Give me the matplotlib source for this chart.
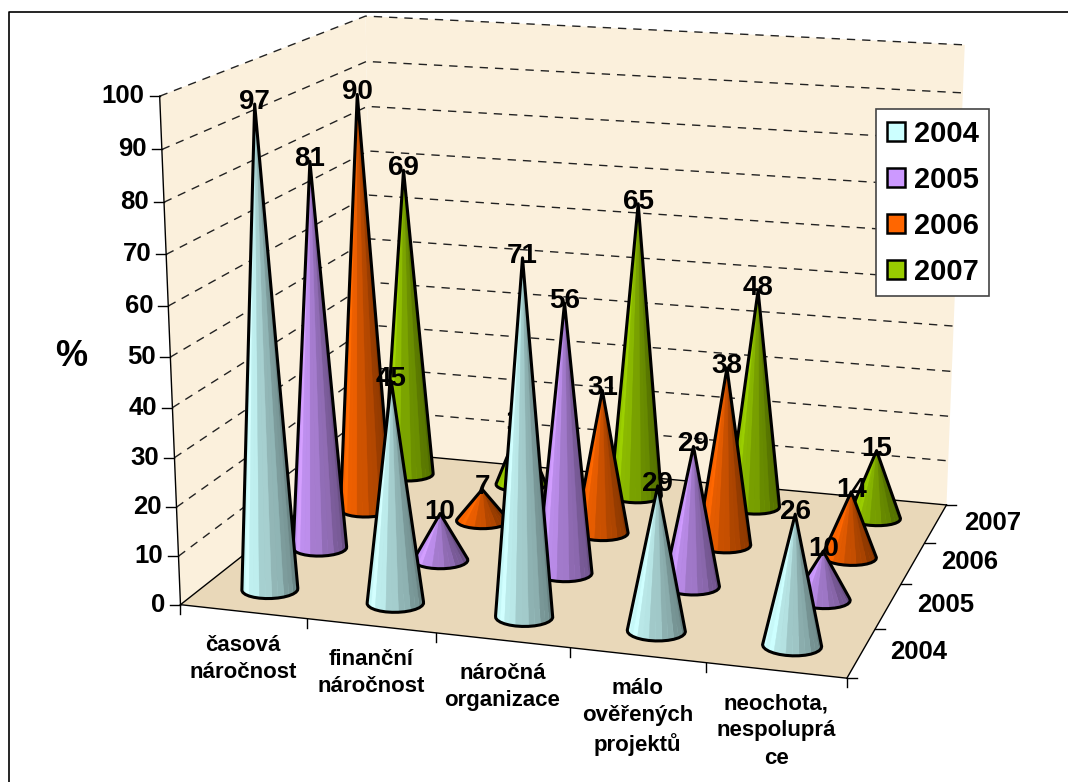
import matplotlib
matplotlib.use("Agg")
import matplotlib.pyplot as plt
from matplotlib.patches import Patch, Polygon
import numpy as np

plt.rcParams['font.family'] = ['Liberation Sans', 'DejaVu Sans']
plt.rcParams['font.weight'] = 'bold'

categories = ["časová\nnáročnost", "finanční\nnáročnost", "náročná\norganizace",
              "málo\nověřených\nprojektů", "neochota,\nnespoluprá\nce"]
years = ["2004", "2005", "2006", "2007"]
values_2004 = [97, 45, 71, 29, 26]
values_2005 = [81, 10, 56, 29, 10]
values_2006 = [90, 7, 31, 38, 14]
values_2007 = [69, 14, 65, 48, 15]
all_values = [values_2004, values_2005, values_2006, values_2007]
colors = ["#CCFFFF", "#CC99FF", "#FF6600", "#99CC00"]
value_ticks = list(range(0, 101, 10))

# the 3d box of the chart: (category, series, value) -> pixel, fitted on its corners
box = [(0, 0, 0), (5, 0, 0), (5, 4, 0), (0, 4, 0), (0, 0, 100), (0, 4, 100), (5, 4, 100)]
box_px = [(181, 606), (846, 678), (947, 505), (374, 451), (160, 95), (365, 17), (965, 45)]


def fit_projection(points, pixels):
    rows = []
    rhs = []
    for (x, y, z), (u, v) in zip(points, pixels):
        rows.append([x, y, z, 1, 0, 0, 0, 0, -u * x, -u * y, -u * z])
        rhs.append(u)
        rows.append([0, 0, 0, 0, x, y, z, 1, -v * x, -v * y, -v * z])
        rhs.append(v)
    sol = np.linalg.lstsq(np.array(rows, float), np.array(rhs, float), rcond=None)[0]
    return np.append(sol, 1).reshape(3, 4)


P = fit_projection(box, box_px)


def project(x, y, z):
    p = P @ np.array([x, y, z, 1.0])
    return p[0] / p[2], p[1] / p[2]


def hull(points):
    pts = sorted(set(points))

    def half(seq):
        out = []
        for p in seq:
            while len(out) > 1 and ((out[-1][0] - out[-2][0]) * (p[1] - out[-2][1])
                                    - (out[-1][1] - out[-2][1]) * (p[0] - out[-2][0])) <= 0:
                out.pop()
            out.append(p)
        return out[:-1]

    return half(pts) + half(pts[::-1])


def shade(color, t, odd):
    # light on the left of the cone, dark on the right
    rgb = np.array(matplotlib.colors.to_rgb(color))
    f = np.interp(t, [0, 0.1, 0.35, 0.7, 1], [0.97, 1.0, 0.84, 0.68, 0.5])
    f = f * (1.04 if odd else 0.98)
    return tuple(np.clip(rgb * f, 0, 1))


def draw_cone(ax, i, j, value, color, order):
    cx, cy = i + 0.5, j + 0.5
    rx, ry = 0.21, 0.2
    n = 28
    angles = np.linspace(0, 2 * np.pi, n, endpoint=False)
    base = [(cx + rx * np.cos(a), cy + ry * np.sin(a)) for a in angles]
    base_px = [project(bx, by, 0) for bx, by in base]
    apex = project(cx, cy, value)
    outline = hull(base_px + [apex])
    ax.add_patch(Polygon(outline, closed=True, fc=color, ec="none", zorder=order))

    xs = [p[0] for p in base_px]
    segs = sorted(range(n), key=lambda k: base[k][1], reverse=True)
    for k in segs:
        a = base_px[k]
        b = base_px[(k + 1) % n]
        t = ((a[0] + b[0]) / 2 - min(xs)) / (max(xs) - min(xs))
        c = shade(color, t, k % 2 == 0)
        ax.add_patch(Polygon([apex, a, b], closed=True, fc=c, ec=c, lw=0.3, zorder=order + 0.1))
    ax.add_patch(Polygon(outline, closed=True, fc="none", ec="black", lw=2.2, joinstyle="round", zorder=order + 0.2))
    ax.text(apex[0], apex[1] - 2, str(value), ha="center", va="center", fontsize=20, zorder=order + 0.3)


fig = plt.figure(figsize=(10.68, 7.82), dpi=100)
ax = fig.add_axes([0, 0, 1, 1])
ax.set_xlim(0, 1068)
ax.set_ylim(782, 0)
ax.axis("off")

# chart frame, only top and left show up
ax.plot([8.5, 8.5, 1068], [782, 11.5, 11.5], color="black", lw=1.2, zorder=0)

# walls and floor
wall_color = "#FBF0DC"
floor_color = "#E9D8B9"
ax.add_patch(Polygon([project(0, 0, 0), project(0, 4, 0), project(0, 4, 100), project(0, 0, 100)], fc=wall_color, ec="none", zorder=1))
ax.add_patch(Polygon([project(0, 4, 0), project(5, 4, 0), project(5, 4, 100), project(0, 4, 100)], fc=wall_color, ec="none", zorder=1))
ax.add_patch(Polygon([project(0, 0, 0), project(5, 0, 0), project(5, 4, 0), project(0, 4, 0)], fc=floor_color, ec="none", zorder=1))

# gridlines
for v in value_ticks[1:]:
    line = [project(0, 0, v), project(0, 4, v), project(5, 4, v)]
    ax.plot([p[0] for p in line], [p[1] for p in line], color="#222222", lw=1, dashes=(6, 5), zorder=2)

# solid axis edges
for a, b in [((0, 0, 100), (0, 0, 0)), ((0, 0, 0), (5, 0, 0)), ((5, 0, 0), (5, 4, 0)),
             ((0, 0, 0), (0, 4, 0)), ((0, 4, 0), (5, 4, 0))]:
    pa, pb = project(*a), project(*b)
    ax.plot([pa[0], pb[0]], [pa[1], pb[1]], color="black", lw=1, zorder=2)

# value axis
for v in value_ticks:
    u, w = project(0, 0, v)
    ax.plot([u - 10, u], [w, w], color="black", lw=1, zorder=2)
    ax.text(u - 15, w, str(v), ha="right", va="center", fontsize=18.5)
ax.text(71, 356, "%", ha="center", va="center", fontsize=26)

# category axis
for i in range(6):
    u, w = project(i, 0, 0)
    ax.plot([u, u], [w, w + 9], color="black", lw=1, zorder=2)
for i, name in enumerate(categories):
    u, w = project(i + 0.5, 0, 0)
    ax.text(u, w + 23, name, ha="center", va="top", fontsize=16, linespacing=1.38)

# series axis
for j in range(5):
    u, w = project(5, j, 0)
    ax.plot([u, u + 10], [w, w], color="black", lw=1, zorder=2)
for j, name in enumerate(years):
    u, w = project(5, j + 0.5, 0)
    ax.text(u + 57, w - 1, name, ha="center", va="center", fontsize=18.5)

# cones, back row first so the front ones cover them
order = 3
for j in range(3, -1, -1):
    for i in range(len(categories)):
        draw_cone(ax, i, j, all_values[j][i], colors[j], order)
        order += 1

handles = [Patch(fc=c, ec="black", lw=1.8, label=y) for c, y in zip(colors, years)]
leg = ax.legend(handles=handles, loc="upper left", bbox_to_anchor=(876, 109), bbox_transform=ax.transData,
                borderaxespad=0, fontsize=21, frameon=True, fancybox=False, framealpha=1, edgecolor="#444444",
                handlelength=0.62, handleheight=0.62, handletextpad=0.32, labelspacing=0.62, borderpad=0.36)
leg.set_zorder(order + 1)
leg.get_frame().set_linewidth(1.2)

fig.savefig("out.png", dpi=100)
